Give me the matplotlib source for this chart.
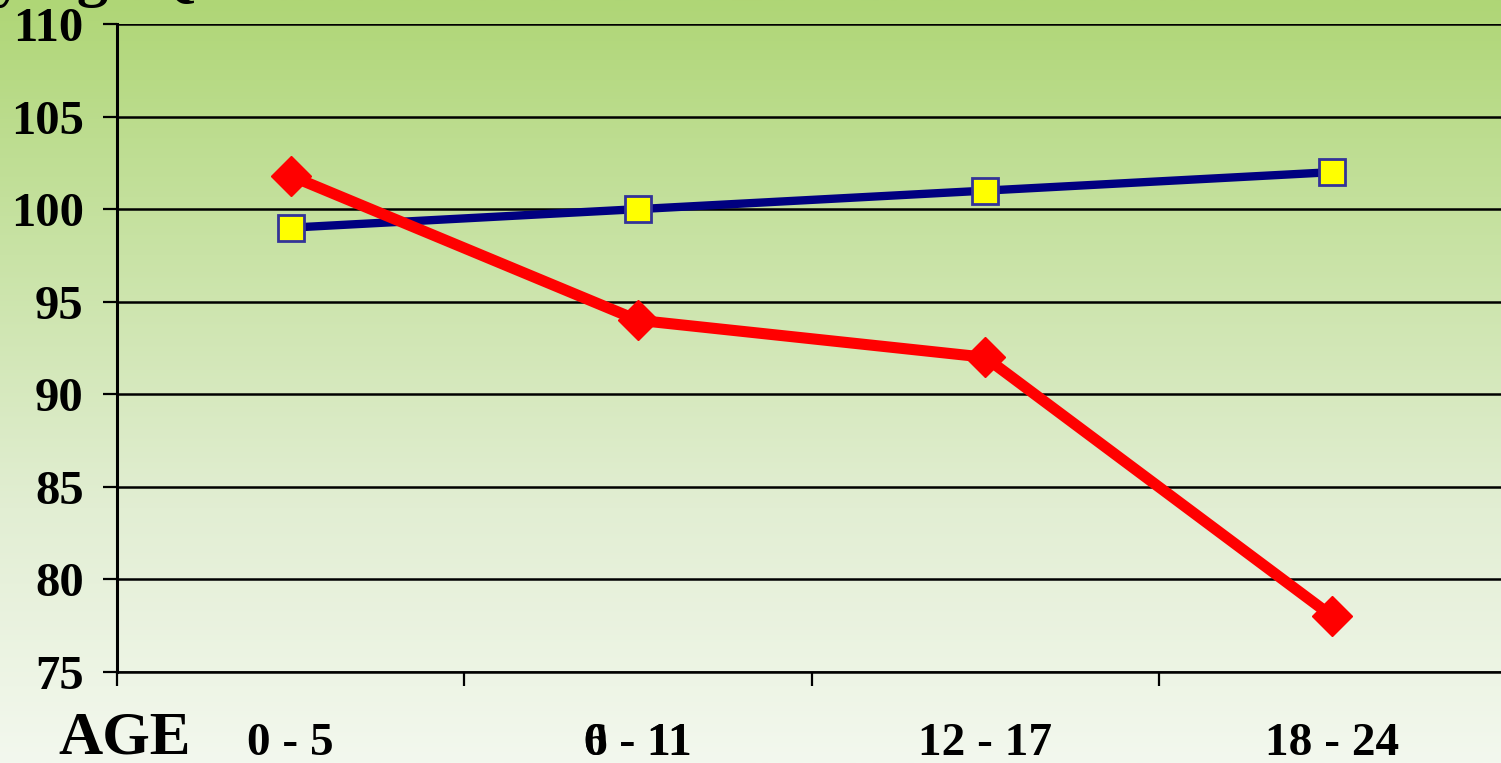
import numpy as np
import matplotlib
matplotlib.use("Agg")
import matplotlib.pyplot as plt
from matplotlib.colors import LinearSegmentedColormap

# data
age_groups = ['0 - 5', '6 - 11', '12 - 17', '18 - 24']
blue_iq = [99, 100, 101, 102]
red_iq = [101.8, 94, 92, 78]
y_ticks = [75, 80, 85, 90, 95, 100, 105, 110]

serif = 'Liberation Serif'

fig = plt.figure(figsize=(15.01, 7.63), dpi=100)

# slide background: green fading to near white
bg = fig.add_axes([0, 0, 1, 1], zorder=-10)
grad = LinearSegmentedColormap.from_list('g', ['#f3f8ee', '#e2eed3', '#c9e3a6', '#afd676'])
bg.imshow(np.linspace(0, 1, 256).reshape(-1, 1), aspect='auto', cmap=grad,
          origin='lower', extent=[0, 1, 0, 1])
bg.axis('off')

# axes runs past the right edge of the picture
ax = fig.add_axes([117 / 1501, 91 / 763, 1389 / 1501, 648 / 763])
ax.patch.set_alpha(0)

x = np.arange(len(age_groups))
ax.plot(x, blue_iq, color='#000080', lw=6, marker='s', ms=18.5,
        mfc='#ffff00', mec='#333399', mew=2, zorder=3, clip_on=False)
ax.plot(x, red_iq, color='#ff0000', lw=8, marker='D', ms=20,
        mfc='#ff0000', mec='#ff0000', zorder=4, clip_on=False)

ax.set_xlim(-0.5, len(age_groups) - 0.5)
ax.set_ylim(75, 110)
ax.set_yticks(y_ticks)
ax.set_yticklabels([str(v) for v in y_ticks], fontfamily=serif,
                   fontweight='bold', fontsize=35)
ax.yaxis.grid(True, color='black', lw=1.8)
ax.set_axisbelow(True)

ax.set_xticks(np.arange(-0.5, len(age_groups), 1.0))
ax.set_xticklabels([])
ax.tick_params(axis='both', direction='out', length=10, width=1.6, color='black')
ax.tick_params(axis='y', pad=14)

for s in ['top', 'right']:
    ax.spines[s].set_visible(False)
ax.spines['left'].set_linewidth(2.2)
ax.spines['bottom'].set_linewidth(1.8)

for i, lab in enumerate(age_groups):
    ax.text(i, -0.128, lab, transform=ax.get_xaxis_transform(), ha='center',
            va='baseline', fontfamily=serif, fontweight='bold', fontsize=34)
# the original has a second label printed just over the "6 - 11" one
ax.text(1, -0.128, '0 - 11', transform=ax.get_xaxis_transform(), ha='center',
        va='baseline', fontfamily=serif, fontweight='bold', fontsize=34)

fig.text(58 / 1501, 0.012, 'AGE', ha='left', va='baseline', fontfamily=serif,
         fontweight='bold', fontsize=44)

# title is cut off at the top, only the descenders show
fig.text(197 / 1501, 1.008, 'Varying IQ', ha='right', va='baseline',
         fontfamily=serif, fontweight='bold', fontsize=45)

fig.savefig('out.png', dpi=100)
